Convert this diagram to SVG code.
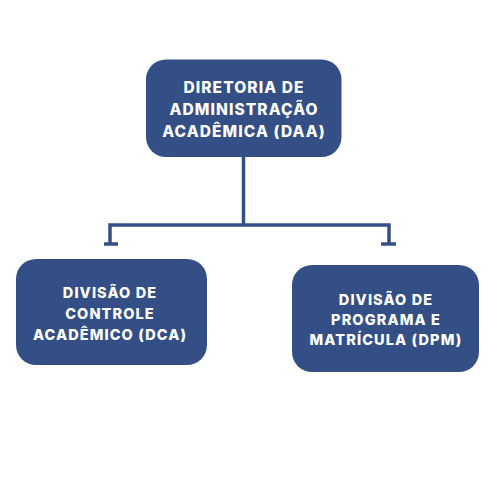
<svg xmlns="http://www.w3.org/2000/svg" width="500" height="500" viewBox="0 0 500 500">
<style>
.box{fill:#344f86;}
.t{font-family:Inter,"Open Sans","DejaVu Sans",sans-serif;font-weight:800;fill:#ffffff;text-anchor:middle;letter-spacing:1.1px;}
.c{stroke:#344f86;stroke-width:3.5;fill:none;}
</style>
<rect width="500" height="500" fill="#ffffff"/>
<g id="connectors">
<path class="c" d="M243.5 157 V225 M110 225 H389 M110 223.3 V244 M389 223.3 V244 M104 244 H118 M381 244 H396"/>
</g>
<g id="daa">
<rect class="box" x="146" y="59.5" width="195.5" height="97.5" rx="20"/>
<text class="t" font-size="15.5"><tspan x="244" y="92.5">DIRETORIA DE</tspan><tspan x="244" y="114.5">ADMINISTRAÇÃO</tspan><tspan x="244" y="136.5">ACADÊMICA (DAA)</tspan></text>
</g>
<g id="dca">
<rect class="box" x="16" y="259" width="191" height="106" rx="20"/>
<text class="t" font-size="14.5"><tspan x="110" y="298">DIVISÃO DE</tspan><tspan x="110" y="319">CONTROLE</tspan><tspan x="110" y="340">ACADÊMICO (DCA)</tspan></text>
</g>
<g id="dpm">
<rect class="box" x="292" y="265" width="187" height="107" rx="20"/>
<text class="t" font-size="14.5"><tspan x="386" y="304.5">DIVISÃO DE</tspan><tspan x="386" y="324.5">PROGRAMA E</tspan><tspan x="386" y="345">MATRÍCULA (DPM)</tspan></text>
</g>
</svg>
